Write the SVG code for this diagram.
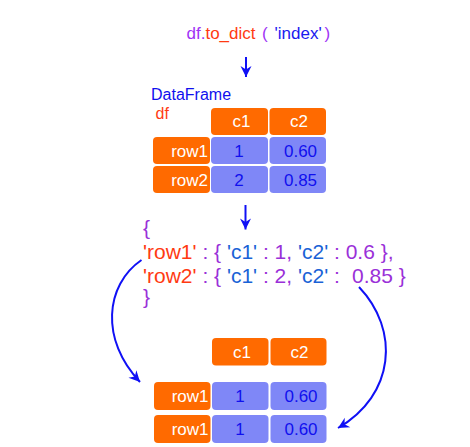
<svg xmlns="http://www.w3.org/2000/svg" width="470" height="447" viewBox="0 0 470 447">
  <style>
    text { font-family: "Liberation Sans", Arial, sans-serif; }
    .hdr { fill: #ff6a00; }
    .lbl { fill: #ff6a00; }
    .val { fill: #7f87f7; }
    .wt { fill: #ffffff; font-size: 17px; }
    .bt { fill: #1010ee; font-size: 17px; }
    .pu { fill: #9a30d8; }
    .rd { fill: #ff3a12; }
    .bl { fill: #1a62d6; }
    .conn { fill: none; stroke: #1010f5; stroke-width: 2; }
  </style>
  <defs>
    <marker id="head" viewBox="-12 -6 13 12" refX="0" refY="0" markerWidth="13" markerHeight="12" markerUnits="userSpaceOnUse" orient="auto">
      <path d="M0,0 L-11,-5.5 L-7.5,0 L-11,5.5 Z" fill="#1010f5"/>
    </marker>
  </defs>

  <!-- method call -->
  <g id="call" font-size="17">
    <text x="186.5" y="38.5"><tspan fill="#a033f5">df.</tspan><tspan class="rd">to_dict</tspan></text>
    <text x="262" y="38.5" fill="#a033f5">(</text>
    <text x="274.5" y="38.5" fill="#1a1af0">'index'</text>
    <text x="324.5" y="38.5" fill="#a033f5">)</text>
  </g>

  <!-- source DataFrame -->
  <g id="df">
    <text x="151" y="99.5" font-size="16" fill="#1010ee">DataFrame</text>
    <text x="155.5" y="119" font-size="16" fill="#ff3a12">df</text>
    <rect class="hdr" x="211" y="108" width="57" height="27" rx="4"/>
    <rect class="hdr" x="269.5" y="108" width="56.5" height="27" rx="4"/>
    <rect class="lbl" x="153" y="137" width="57" height="27" rx="4"/>
    <rect class="val" x="211" y="137" width="57" height="27" rx="4"/>
    <rect class="val" x="269.5" y="137" width="56.5" height="27" rx="4"/>
    <rect class="lbl" x="153" y="166" width="57" height="27" rx="4"/>
    <rect class="val" x="211" y="166" width="57" height="27" rx="4"/>
    <rect class="val" x="269.5" y="166" width="56.5" height="27" rx="4"/>
    <text class="wt" x="241.5" y="127" text-anchor="middle">c1</text>
    <text class="wt" x="299" y="127" text-anchor="middle">c2</text>
    <text class="wt" x="208" y="157" text-anchor="end">row1</text>
    <text class="bt" x="239" y="157" text-anchor="middle">1</text>
    <text class="bt" x="300.5" y="157" text-anchor="middle">0.60</text>
    <text class="wt" x="208" y="186" text-anchor="end">row2</text>
    <text class="bt" x="239" y="186" text-anchor="middle">2</text>
    <text class="bt" x="300.5" y="186" text-anchor="middle">0.85</text>
  </g>

  <!-- resulting dict -->
  <g id="dict" font-size="21">
    <text x="143" y="235" class="pu">{</text>
    <text x="143" y="259"><tspan class="rd">'row1'</tspan><tspan class="pu"> : { </tspan><tspan class="bl">'c1'</tspan><tspan class="pu"> : 1, </tspan><tspan class="bl">'c2'</tspan><tspan class="pu"> : 0.6 },</tspan></text>
    <text x="143" y="283"><tspan class="rd">'row2'</tspan><tspan class="pu"> : { </tspan><tspan class="bl">'c1'</tspan><tspan class="pu"> : 2, </tspan><tspan class="bl">'c2'</tspan><tspan class="pu"> : </tspan><tspan class="pu" x="352">0.85 }</tspan></text>
    <text x="143" y="304" class="pu">}</text>
  </g>

  <!-- rebuilt table -->
  <g id="result">
    <rect class="hdr" x="212" y="338" width="56.5" height="27.5" rx="4"/>
    <rect class="hdr" x="270.5" y="338" width="56" height="27.5" rx="4"/>
    <rect class="lbl" x="154" y="382" width="56.5" height="28" rx="4"/>
    <rect class="val" x="212" y="382" width="56.5" height="28" rx="4"/>
    <rect class="val" x="270.5" y="382" width="56" height="28" rx="4"/>
    <rect class="lbl" x="154" y="415" width="56.5" height="28" rx="4"/>
    <rect class="val" x="212" y="415" width="56.5" height="28" rx="4"/>
    <rect class="val" x="270.5" y="415" width="56" height="28" rx="4"/>
    <text class="wt" x="242" y="357.5" text-anchor="middle">c1</text>
    <text class="wt" x="299.5" y="357.5" text-anchor="middle">c2</text>
    <text class="wt" x="208.5" y="402" text-anchor="end">row1</text>
    <text class="bt" x="240" y="402" text-anchor="middle">1</text>
    <text class="bt" x="301" y="402" text-anchor="middle">0.60</text>
    <text class="wt" x="208.5" y="435" text-anchor="end">row1</text>
    <text class="bt" x="240" y="435" text-anchor="middle">1</text>
    <text class="bt" x="301" y="435" text-anchor="middle">0.60</text>
  </g>

  <!-- connectors -->
  <g id="connectors" class="conn">
    <path class="conn" d="M246,57 L246,77" marker-end="url(#head)"/>
    <path class="conn" d="M245.5,205 L245.5,229.5" marker-end="url(#head)"/>
    <path class="conn" d="M141.5,260 C105,285 100,340 140,382" marker-end="url(#head)"/>
    <path class="conn" d="M359,287 C400,330 395,395 338,428" marker-end="url(#head)"/>
  </g>
</svg>
